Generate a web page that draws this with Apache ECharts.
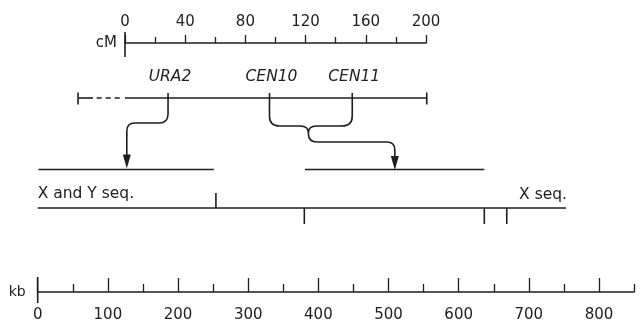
<!DOCTYPE html>
<html><head><meta charset="utf-8">
<script src="https://cdn.jsdelivr.net/npm/echarts@6/dist/echarts.min.js"></script>
<style>html,body{margin:0;padding:0;background:#fff}#c{width:643px;height:328px}</style>
</head><body><div id="c"></div>
<script>
// ---------- data ----------
var cmTickValues = [0, 40, 80, 120, 160, 200];
var kbTickValues = [0, 100, 200, 300, 400, 500, 600, 700, 800];
var kbMinorTickValues = [50, 150, 250, 350, 450, 550, 650, 750, 850];
var markerNames = ['URA2', 'CEN10', 'CEN11'];
var markerCM = [28.6, 96, 151];
var geneticMapLeftSolid = [-31.2, -21.3];
var geneticMapDashed = [-18.8, -3.4];
var geneticMapMain = [0, 200.5];
var physicalMapKb = [0, 753];
var physicalTicksAboveKb = [254];
var physicalTicksBelowKb = [380, 636.5, 668.5];
var segmentStartKb = [1, 381];
var segmentEndKb = [251, 636.5];
var arrowTargetKb = [127, 509];
var seqLabels = ['X and Y seq.', 'X seq.'];

// ---------- layout / style ----------
var INK = '#1e1e1e';
var FONT = 'DejaVu Sans';
var GH = 249;
var MAP_Y = 55, MARKER_LABEL_Y = 34, SEG_Y = 126.5, PHYS_Y = 165, SEQ_LABEL_Y = 150.5;
var LW = 1.6;

var chart = echarts.init(document.getElementById('c'));

function yAx(i) { return { gridIndex: i, type: 'value', min: 0, max: GH, inverse: true, show: false }; }
function vline(x, y1, y2, w) {
  return { type: 'line', shape: { x1: x, y1: y1, x2: x, y2: y2 }, style: { stroke: INK, lineWidth: w || LW } };
}
function hLineSeries(grid, starts, ends, y, dashed) {
  return {
    type: 'custom', xAxisIndex: grid, yAxisIndex: grid, clip: false, silent: true,
    data: starts.map(function (a, i) { return [a, ends[i]]; }),
    renderItem: function (params, api) {
      var p1 = api.coord([api.value(0), y]);
      var p2 = api.coord([api.value(1), y]);
      return { type: 'line', shape: { x1: p1[0], y1: p1[1], x2: p2[0], y2: p2[1] },
        style: { stroke: INK, lineWidth: LW, lineDash: dashed ? [5, 4] : null } };
    }
  };
}

var series = [];
series.push(hLineSeries(0, [geneticMapLeftSolid[0], geneticMapMain[0]], [geneticMapLeftSolid[1], geneticMapMain[1]], MAP_Y));
series.push(hLineSeries(0, [geneticMapDashed[0]], [geneticMapDashed[1]], MAP_Y, true));
series.push(hLineSeries(1, [physicalMapKb[0]], [physicalMapKb[1]], PHYS_Y));
series.push(hLineSeries(1, segmentStartKb, segmentEndKb, SEG_Y));

series.push({
  type: 'custom', xAxisIndex: 0, yAxisIndex: 0, clip: false, silent: true,
  data: [geneticMapLeftSolid[0], geneticMapMain[1]].map(function (v) { return [v]; }),
  renderItem: function (params, api) {
    var p = api.coord([api.value(0), MAP_Y]);
    return vline(p[0], p[1] - 5.5, p[1] + 6.5);
  }
});
series.push({
  type: 'custom', xAxisIndex: 0, yAxisIndex: 0, clip: false, silent: true,
  data: markerCM.map(function (v, i) { return [v, i]; }),
  renderItem: function (params, api) {
    var p = api.coord([api.value(0), MAP_Y]);
    var q = api.coord([api.value(0), MARKER_LABEL_Y]);
    return { type: 'group', children: [
      vline(p[0], p[1] - 5, p[1] + 6),
      { type: 'text', style: { text: markerNames[params.dataIndex], x: q[0] + 2, y: q[1],
        textAlign: 'center', textVerticalAlign: 'middle', fill: INK,
        font: 'italic 15.5px "' + FONT + '"' } }
    ] };
  }
});
series.push({
  type: 'custom', xAxisIndex: 0, yAxisIndex: 0, clip: false, silent: true, data: [[0]],
  renderItem: function (params, api) {
    var p = api.coord([0, 0]);
    return vline(p[0], p[1] - 11, p[1] + 14);
  }
});
series.push({
  type: 'custom', xAxisIndex: 1, yAxisIndex: 1, clip: false, silent: true, data: [[0]],
  renderItem: function (params, api) {
    var p = api.coord([0, GH]);
    return vline(p[0], p[1] - 15, p[1] + 11);
  }
});
series.push({
  type: 'custom', xAxisIndex: 1, yAxisIndex: 1, clip: false, silent: true,
  data: physicalTicksAboveKb.map(function (v) { return [v, 1]; }).concat(physicalTicksBelowKb.map(function (v) { return [v, -1]; })),
  renderItem: function (params, api) {
    var p = api.coord([api.value(0), PHYS_Y]);
    return api.value(1) > 0 ? vline(p[0], p[1] - 15, p[1]) : vline(p[0], p[1], p[1] + 16);
  }
});
series.push({
  type: 'custom', xAxisIndex: 1, yAxisIndex: 1, clip: false, silent: true,
  data: [[physicalMapKb[0], 0], [physicalMapKb[1], 1]],
  renderItem: function (params, api) {
    var p = api.coord([api.value(0), SEQ_LABEL_Y]);
    var i = params.dataIndex;
    return { type: 'text', style: { text: seqLabels[i], x: p[0] + (i ? 1 : 0), y: p[1] + i,
      textAlign: i ? 'right' : 'left', textVerticalAlign: 'middle', fill: INK, font: '15.5px "' + FONT + '"' } };
  }
});
series.push({
  type: 'custom', xAxisIndex: 1, yAxisIndex: 1, clip: false, silent: true,
  data: arrowTargetKb.map(function (v, i) { return [v, i]; }),
  renderItem: function (params, api) {
    var t = api.coord([api.value(0), SEG_Y]);
    var m = api.coord([0, MAP_Y]);
    var tx = t[0], tip = t[1] + (params.dataIndex ? 0.5 : -1), y0 = m[1] + 6;
    var d;
    if (params.dataIndex === 0) {
      var x1 = chart.convertToPixel({ xAxisIndex: 0 }, markerCM[0]);
      var hy = m[1] + 25;
      d = 'M' + x1 + ' ' + y0 + 'L' + x1 + ' ' + (hy - 9) + 'Q' + x1 + ' ' + hy + ' ' + (x1 - 9) + ' ' + hy +
          'L' + (tx + 8) + ' ' + hy + 'Q' + tx + ' ' + hy + ' ' + tx + ' ' + (hy + 8) + 'L' + tx + ' ' + (tip - 12);
    } else {
      var xa = chart.convertToPixel({ xAxisIndex: 0 }, markerCM[1]);
      var xb = chart.convertToPixel({ xAxisIndex: 0 }, markerCM[2]);
      var xm = xa + (xb - xa) * 0.47;
      var by = m[1] + 28, sy = m[1] + 36, ly = m[1] + 44;
      d = 'M' + xa + ' ' + y0 + 'L' + xa + ' ' + (by - 10) + 'Q' + xa + ' ' + by + ' ' + (xa + 10) + ' ' + by +
          'L' + (xm - 8) + ' ' + by + 'Q' + xm + ' ' + by + ' ' + xm + ' ' + (by + 7) +
          'M' + xb + ' ' + y0 + 'L' + xb + ' ' + (by - 10) + 'Q' + xb + ' ' + by + ' ' + (xb - 10) + ' ' + by +
          'L' + (xm + 8) + ' ' + by + 'Q' + xm + ' ' + by + ' ' + xm + ' ' + (by + 7) +
          'L' + xm + ' ' + sy + 'Q' + xm + ' ' + ly + ' ' + (xm + 9) + ' ' + ly +
          'L' + (tx - 8) + ' ' + ly + 'Q' + tx + ' ' + ly + ' ' + tx + ' ' + (ly + 8) + 'L' + tx + ' ' + (tip - 12);
    }
    return { type: 'group', children: [
      { type: 'path', shape: { pathData: d }, style: { stroke: INK, lineWidth: LW, fill: null } },
      { type: 'polygon', shape: { points: [[tx, tip], [tx - 4, tip - 14], [tx + 4, tip - 14]] }, style: { fill: INK } }
    ] };
  }
});

var labelStyle = { color: INK, fontSize: 15, fontFamily: FONT };
var option = {
  animation: false,
  backgroundColor: '#fff',
  grid: [
    { left: 125, width: 301, top: 43, height: GH },
    { left: 37.7, width: 596.4, top: 43, height: GH },
    { left: 37.7, width: 596.4, top: 43, height: GH }
  ],
  xAxis: [
    { gridIndex: 0, type: 'value', position: 'top', min: 0, max: 200, interval: 40,
      axisLine: { show: true, onZero: false, lineStyle: { color: INK, width: LW } },
      axisTick: { show: true, length: 8, lineStyle: { color: INK, width: 1.3 } },
      minorTick: { show: true, splitNumber: 2, length: 6, lineStyle: { color: INK, width: 1.3 } },
      axisLabel: Object.assign({ margin: 13 }, labelStyle),
      splitLine: { show: false }, minorSplitLine: { show: false },
      name: 'cM', nameLocation: 'start', nameGap: 8, nameTextStyle: { color: INK, fontSize: 15, fontFamily: FONT } },
    { gridIndex: 1, type: 'value', position: 'bottom', min: 0, max: 850,
      axisLine: { show: true, onZero: false, lineStyle: { color: INK, width: LW } },
      axisTick: { show: true, inside: true, length: 14, customValues: kbTickValues, lineStyle: { color: INK, width: 1.3 } },
      axisLabel: Object.assign({ margin: 16, customValues: kbTickValues }, labelStyle),
      splitLine: { show: false },
      name: 'kb', nameLocation: 'start', nameGap: 12, nameTextStyle: { color: INK, fontSize: 14, fontFamily: FONT } },
    { gridIndex: 2, type: 'value', position: 'bottom', min: 0, max: 850,
      axisLine: { show: false, onZero: false },
      axisTick: { show: true, inside: true, length: 8, customValues: kbMinorTickValues, lineStyle: { color: INK, width: 1.3 } },
      axisLabel: { show: false }, splitLine: { show: false } }
  ],
  yAxis: [yAx(0), yAx(1), yAx(2)],
  series: series
};
chart.setOption(option);
</script>
</body></html>
